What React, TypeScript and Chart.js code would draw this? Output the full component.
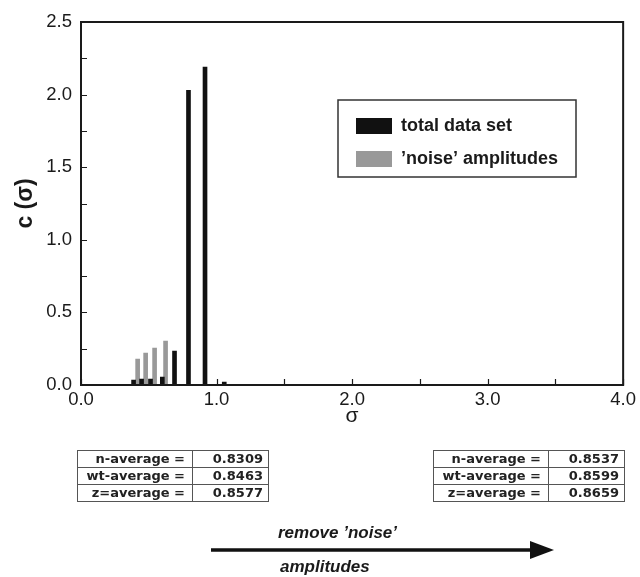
import React, { useEffect, useRef } from "react";
import { Chart, registerables } from "chart.js";

Chart.register(...registerables);

// ---- data ----
const totalSigma = [0.388, 0.447, 0.513, 0.6, 0.69, 0.793, 0.915, 1.057];
const totalC = [0.034, 0.041, 0.041, 0.055, 0.234, 2.03, 2.19, 0.02];
const noiseSigma = [0.418, 0.477, 0.543, 0.624];
const noiseC = [0.179, 0.22, 0.255, 0.303];
const seriesLabels = ["total data set", "’noise’ amplitudes"];
const avgLabels = ["n-average =", "wt-average =", "z=average ="];
const avgBefore = ["0.8309", "0.8463", "0.8577"];
const avgAfter = ["0.8537", "0.8599", "0.8659"];
const yMinorStep = 0.25;
const xMinorStep = 0.5;

const FONT = '"Liberation Sans", Arial, Helvetica, sans-serif';

const framePlugin = {
  id: "framePlugin",
  afterDraw(chart: any) {
    const { ctx, chartArea } = chart;
    const xs = chart.scales.x;
    const ys = chart.scales.y;
    ctx.save();
    ctx.strokeStyle = "#1a1a1a";
    ctx.lineWidth = 2;
    ctx.strokeRect(chartArea.left, chartArea.top, chartArea.right - chartArea.left, chartArea.bottom - chartArea.top);
    ctx.lineWidth = 1.2;
    ctx.beginPath();
    for (let v = 0; v <= ys.max + 1e-9; v += yMinorStep) {
      const p = Math.round(ys.getPixelForValue(v)) + 0.5;
      ctx.moveTo(chartArea.left, p);
      ctx.lineTo(chartArea.left + 6, p);
    }
    for (let v = 0; v <= xs.max + 1e-9; v += xMinorStep) {
      const p = Math.round(xs.getPixelForValue(v)) + 0.5;
      ctx.moveTo(p, chartArea.bottom);
      ctx.lineTo(p, chartArea.bottom - 6);
    }
    ctx.stroke();

    // legend
    const bx = 338, by = 100, bw = 238, bh = 77;
    ctx.lineWidth = 1.5;
    ctx.strokeStyle = "#333";
    ctx.fillStyle = "#fff";
    ctx.fillRect(bx, by, bw, bh);
    ctx.strokeRect(bx, by, bw, bh);
    chart.data.datasets.forEach((ds: any, i: number) => {
      const yy = by + 26 + i * 33;
      ctx.fillStyle = ds.backgroundColor;
      ctx.fillRect(bx + 18, yy - 8, 36, 16);
      ctx.fillStyle = "#1a1a1a";
      ctx.font = `bold 18px ${FONT}`;
      ctx.textBaseline = "middle";
      ctx.textAlign = "left";
      ctx.fillText(ds.label, bx + 63, yy);
    });
    ctx.restore();
  },
};

function AvgTable({ left, values }: { left: number; values: string[] }) {
  const cell: React.CSSProperties = {
    border: "1px solid #555",
    textAlign: "right",
    padding: 0,
    height: 16,
    lineHeight: "16px",
    whiteSpace: "nowrap",
    overflow: "hidden",
  };
  return (
    <table
      style={{
        position: "absolute",
        left,
        top: 450,
        borderCollapse: "collapse",
        tableLayout: "fixed",
        width: 191,
        border: "1.5px solid #888",
        fontFamily: '"DejaVu Sans", Verdana, sans-serif',
        fontWeight: "bold",
        fontSize: 13,
        color: "#222",
      }}
    >
      <colgroup>
        <col style={{ width: 115 }} />
        <col style={{ width: 76 }} />
      </colgroup>
      <tbody>
        {avgLabels.map((l, i) => (
          <tr key={l}>
            <td style={{ ...cell, paddingRight: 7 }}>{l}</td>
            <td style={{ ...cell, paddingRight: 5 }}>{values[i]}</td>
          </tr>
        ))}
      </tbody>
    </table>
  );
}

export default function App() {
  const ref = useRef<HTMLCanvasElement | null>(null);
  useEffect(() => {
    if (!ref.current) return;
    const chart = new Chart(ref.current, {
      type: "bar",
      data: {
        datasets: [
          {
            label: seriesLabels[0],
            data: totalSigma.map((x, i) => ({ x, y: totalC[i] })),
            backgroundColor: "#111111",
            barThickness: 4,
            grouped: false,
          } as any,
          {
            label: seriesLabels[1],
            data: noiseSigma.map((x, i) => ({ x, y: noiseC[i] })),
            backgroundColor: "#999999",
            barThickness: 4,
            grouped: false,
          } as any,
        ],
      },
      options: {
        animation: false,
        responsive: false,
        devicePixelRatio: 1,
        layout: { padding: { left: 0, top: 22, right: 14, bottom: 148 } },
        plugins: { legend: { display: false }, tooltip: { enabled: false } },
        scales: {
          x: {
            type: "linear",
            min: 0,
            max: 4,
            offset: false,
            grid: { display: false, drawTicks: false },
            border: { display: false },
            ticks: {
              stepSize: 1,
              padding: 4,
              color: "#1a1a1a",
              font: { family: FONT, size: 18.5 },
              callback: (v: any) => Number(v).toFixed(1),
              maxRotation: 0,
            },
            title: {
              display: true,
              text: "σ",
              color: "#1a1a1a",
              font: { family: FONT, size: 21 },
              padding: { top: 0, bottom: 0 },
            },
            afterFit: (s: any) => {
              s.height = 44;
            },
          },
          y: {
            min: 0,
            max: 2.5,
            grid: { display: false, drawTicks: false },
            border: { display: false },
            ticks: {
              stepSize: 0.5,
              padding: 9,
              color: "#1a1a1a",
              font: { family: FONT, size: 18.5 },
              callback: (v: any) => Number(v).toFixed(1),
            },
            title: {
              display: true,
              text: "c (σ)",
              color: "#1a1a1a",
              font: { family: FONT, size: 23, weight: "bold" },
              padding: { top: 12, bottom: 0 },
            },
            afterFit: (s: any) => {
              s.width = 81;
            },
          },
        },
      } as any,
      plugins: [framePlugin],
    });
    return () => chart.destroy();
  }, []);

  const italic: React.CSSProperties = {
    position: "absolute",
    fontFamily: FONT,
    fontWeight: "bold",
    fontStyle: "italic",
    fontSize: 17,
    lineHeight: "20px",
    color: "#1a1a1a",
    whiteSpace: "nowrap",
  };

  return (
    <div style={{ position: "absolute", left: 0, top: 0, width: 640, height: 577, background: "#fff", overflow: "hidden" }}>
      <canvas ref={ref} width={640} height={577} style={{ position: "absolute", left: 0, top: 0 }} />
      <AvgTable left={77} values={avgBefore} />
      <AvgTable left={433} values={avgAfter} />
      <div style={{ ...italic, left: 278, top: 523 }}>remove ’noise’</div>
      <svg width={640} height={577} style={{ position: "absolute", left: 0, top: 0, pointerEvents: "none" }}>
        <line x1={211} y1={550} x2={532} y2={550} stroke="#111" strokeWidth={3.5} />
        <polygon points="530,541 554,550 530,559" fill="#111" />
      </svg>
      <div style={{ ...italic, left: 280, top: 557 }}>amplitudes</div>
    </div>
  );
}
